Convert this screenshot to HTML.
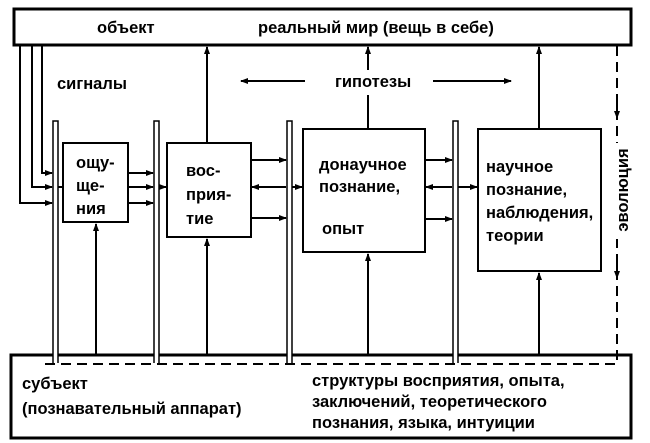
<!DOCTYPE html>
<html><head><meta charset="utf-8"><style>
html,body{margin:0;padding:0;background:#fff}
svg{display:block}
text{font-family:"Liberation Sans",sans-serif;font-size:16.5px;fill:#000;font-weight:bold}
</style></head><body>
<svg width="650" height="443" viewBox="0 0 650 443" xmlns="http://www.w3.org/2000/svg">
<defs>
<marker id="a" markerWidth="8" markerHeight="6" refX="7" refY="3" orient="auto" markerUnits="userSpaceOnUse"><path d="M0,0 L8,3 L0,6 z" fill="#000"/></marker>
</defs>
<g stroke="#000" fill="none">
<rect x="14" y="9" width="617" height="36" stroke-width="3"/>
<rect x="11" y="355" width="620" height="83" stroke-width="3"/>
<path d="M45,364 H617 V46" stroke-width="2" stroke-dasharray="10,6"/>
<g stroke-width="1.5" fill="#fff">
<path d="M53,363 V121 H58 V363"/>
<path d="M154,363 V121 H159 V363"/>
<path d="M287,363 V121 H292 V363"/>
<path d="M453,363 V121 H458 V363"/>
</g>
<g stroke-width="2" fill="#fff">
<rect x="63" y="143" width="65" height="79"/>
<rect x="167" y="143" width="84" height="94"/>
<rect x="303" y="129" width="122" height="123"/>
<rect x="478" y="129" width="123" height="142"/>
</g>
<g stroke-width="2">
<path d="M20,45 V203 H52" marker-end="url(#a)"/>
<path d="M32,45 V187 H52" marker-end="url(#a)"/>
<path d="M42,45 V173 H52" marker-end="url(#a)"/>
<path d="M58,187 H63" />
<path d="M128,173 H153" marker-end="url(#a)"/>
<path d="M128,187 H153" marker-end="url(#a)"/>
<path d="M128,203 H153" marker-end="url(#a)"/>
<path d="M159,187 H166" marker-end="url(#a)"/>
<path d="M251,160 H286" marker-end="url(#a)"/>
<path d="M286,187 H252" marker-end="url(#a)"/>
<path d="M251,218 H286" marker-end="url(#a)"/>
<path d="M292,187 H302" marker-end="url(#a)"/>
<path d="M425,160 H452" marker-end="url(#a)"/>
<path d="M452,187 H426" marker-end="url(#a)"/>
<path d="M425,219 H452" marker-end="url(#a)"/>
<path d="M458,187 H477" marker-end="url(#a)"/>
<path d="M207,143 V47" marker-end="url(#a)"/>
<path d="M368,129 V95"/>
<path d="M368,70 V47" marker-end="url(#a)"/>
<path d="M539,129 V47" marker-end="url(#a)"/>
<path d="M96,355 V224" marker-end="url(#a)"/>
<path d="M207,355 V239" marker-end="url(#a)"/>
<path d="M368,355 V254" marker-end="url(#a)"/>
<path d="M539,355 V273" marker-end="url(#a)"/>
<path d="M305,81 H241" marker-end="url(#a)"/>
<path d="M433,81 H511" marker-end="url(#a)"/>
<path d="M617,100 V118" marker-end="url(#a)"/>
<path d="M617,260 V278" marker-end="url(#a)"/>
</g>
</g>
<rect x="610" y="143" width="15" height="96" fill="#fff"/>
<text x="97" y="33">объект</text>
<text x="258" y="33">реальный мир (вещь в себе)</text>
<text x="57" y="89">сигналы</text>
<text x="335" y="87">гипотезы</text>
<text x="76" y="168">ощу-</text>
<text x="76" y="191">ще-</text>
<text x="76" y="214">ния</text>
<text x="186" y="176">вос-</text>
<text x="186" y="200">прия-</text>
<text x="186" y="224">тие</text>
<text x="319" y="170">донаучное</text>
<text x="319" y="192">познание,</text>
<text x="322" y="234">опыт</text>
<text x="486" y="172">научное</text>
<text x="486" y="195">познание,</text>
<text x="486" y="218">наблюдения,</text>
<text x="486" y="241">теории</text>
<text transform="translate(628,190) rotate(-90)" text-anchor="middle">эволюция</text>
<text x="22" y="389">субъект</text>
<text x="22" y="414">(познавательный аппарат)</text>
<text x="312" y="386">структуры восприятия, опыта,</text>
<text x="312" y="407">заключений, теоретического</text>
<text x="312" y="428">познания, языка, интуиции</text>
</svg>
</body></html>
